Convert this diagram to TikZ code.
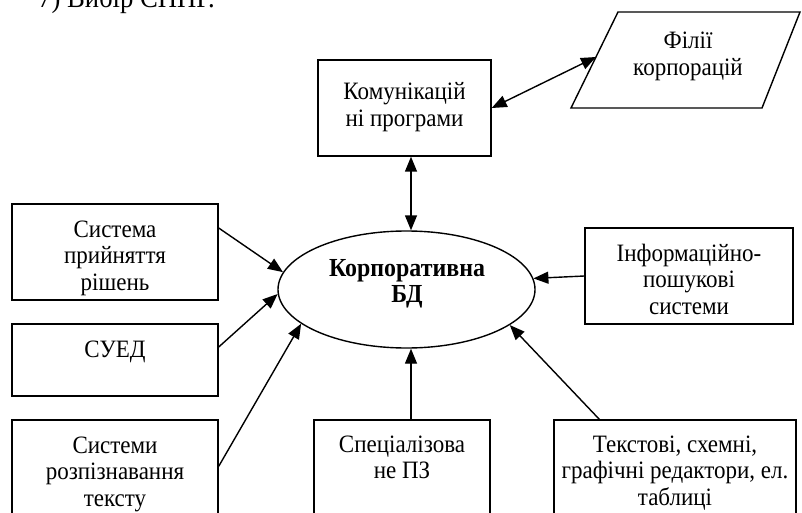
\documentclass[tikz,border=0pt]{standalone}
\usepackage{fontspec}
\setmainfont[FakeStretch=0.92]{Liberation Serif}
\usetikzlibrary{arrows.meta,shapes.geometric}
\begin{document}
\begin{tikzpicture}[x=1pt,y=-1pt,
  box/.style={draw,line width=1.4pt,rectangle,inner sep=0pt},
  lbl/.style={anchor=base,align=center,inner sep=0pt,font=\fontsize{25}{26.5}\selectfont},
  tip/.style={Triangle[length=15pt,width=12pt]},
  arr/.style={line width=1.4pt,-{Triangle[length=15pt,width=12pt]}},
  darr/.style={line width=1.4pt,{Triangle[length=15pt,width=12pt]}-{Triangle[length=15pt,width=12pt]}}]
\useasboundingbox (0,0) rectangle (802,513);
\fill[white] (0,0) rectangle (802,513);
\clip (0,0) rectangle (802,513);

\node[anchor=base west,inner sep=0pt,font=\fontsize{29}{32}\selectfont] (title) at (38,8) {7) Вибір СППР.};

\node[box,minimum width=173pt,minimum height=96pt] (kom) at (404.5,108) {};
\node[lbl] (komt) at (404.5,126.5) {Комунікацій\\ні програми};

\draw[line width=1.4pt] (571,108) -- (618,12) -- (800,12) -- (762,108) -- cycle;
\coordinate (filL) at (596,57);
\node[lbl] (filt) at (688,75.5) {Філії\\корпорацій};

\node[box,minimum width=206pt,minimum height=96pt] (sys) at (115,252) {};
\node[lbl] (syst) at (115,290) {Система\\прийняття\\рішень};

\node[box,minimum width=206pt,minimum height=72pt] (sued) at (115,360) {};
\node[lbl] (suedt) at (115,357) {СУЕД};

\node[box,minimum width=206pt,minimum height=130pt] (rozp) at (115,485) {};
\node[lbl] (rozpt) at (115,506) {Системи\\розпізнавання\\тексту};

\node[box,minimum width=176pt,minimum height=130pt] (spec) at (402,485) {};
\node[lbl] (spect) at (402,478.5) {Спеціалізова\\не ПЗ};

\node[box,minimum width=242pt,minimum height=130pt] (txt) at (675,485) {};
\node[lbl] (txtt) at (675,505) {Текстові, схемні,\\графічні редактори, ел.\\таблиці};

\node[box,minimum width=208pt,minimum height=96pt] (info) at (689,276) {};
\node[lbl] (infot) at (689,314) {Інформаційно-\\пошукові\\системи};

\node[draw,ellipse,line width=1.4pt,minimum width=257pt,minimum height=117pt,inner sep=0pt] (db) at (406.5,289.5) {};
\node[lbl,font=\fontsize{26}{26}\selectfont\bfseries] (dbt) at (407,302) {Корпоративна\\БД};

\coordinate (dbtop) at ([xshift=4.5pt]db.north);
\coordinate (dbbot) at ([xshift=4.5pt]db.south);

\draw[darr] (kom.east) -- (filL);
\draw[darr] (kom.south -| dbtop) -- (dbtop);
\draw[arr] ([yshift=24pt]sys.east) -- (db.172);
\draw[arr] ([yshift=13pt]sued.east) -- (db.182);
\draw[arr] ([yshift=-47pt]rozp.north east) -- (db.198);
\draw[arr] (spec.north -| dbbot) -- (dbbot);
\draw[arr] ([xshift=46pt]txt.north west) -- (db.-19);
\draw[arr] (info.west) -- (db.5);
\end{tikzpicture}
\end{document}
